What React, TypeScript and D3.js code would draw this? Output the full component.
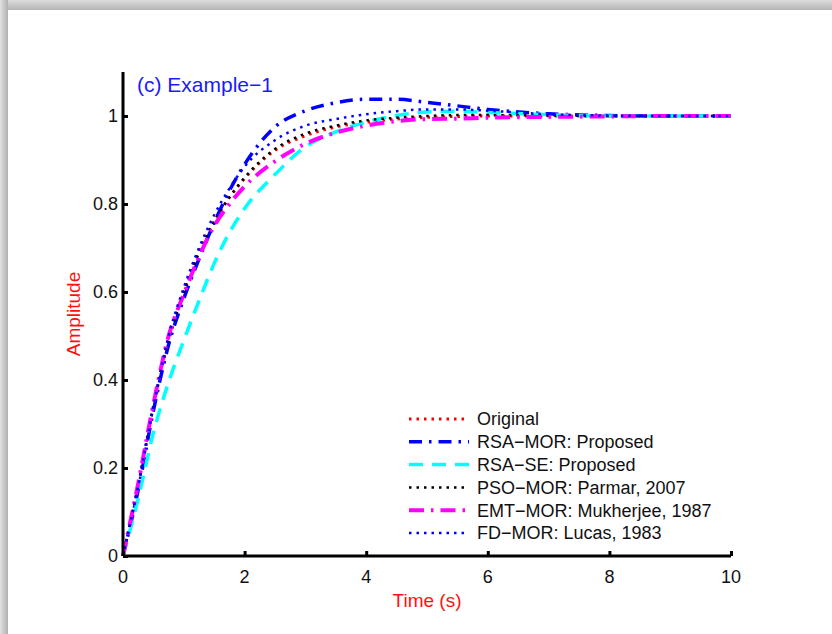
import { useEffect, useRef } from "react";
import * as d3 from "d3";

// step response samples
const timeS = [0, 0.25, 0.5, 0.75, 1, 1.25, 1.5, 1.75, 2, 2.5, 3, 3.5, 4, 4.5, 5, 5.5, 6, 7, 8, 9, 10];
const original = [0, 0.16, 0.34, 0.49, 0.6, 0.69, 0.76, 0.815, 0.858, 0.922, 0.955, 0.975, 0.986, 0.993, 0.997, 0.999, 1.0, 1.0, 1.0, 1.0, 1.0];
const rsaMor = [0, 0.15, 0.33, 0.48, 0.585, 0.675, 0.757, 0.83, 0.89, 0.975, 1.012, 1.03, 1.038, 1.038, 1.031, 1.023, 1.015, 1.005, 1.001, 1.0, 1.0];
const rsaSe = [0, 0.13, 0.28, 0.395, 0.49, 0.58, 0.665, 0.735, 0.79, 0.867, 0.93, 0.964, 0.986, 1.001, 1.009, 1.011, 1.008, 1.003, 1.0, 1.0, 1.0];
const psoMor = [0, 0.16, 0.34, 0.49, 0.6, 0.69, 0.76, 0.815, 0.86, 0.925, 0.96, 0.978, 0.99, 0.996, 1.0, 1.002, 1.002, 1.001, 1.0, 1.0, 1.0];
const emtMor = [0, 0.165, 0.345, 0.5, 0.595, 0.68, 0.75, 0.8, 0.84, 0.897, 0.937, 0.962, 0.978, 0.988, 0.993, 0.994, 0.996, 0.998, 0.999, 1.0, 1.0];
const fdMor = [0, 0.16, 0.34, 0.5, 0.61, 0.7, 0.775, 0.835, 0.885, 0.945, 0.978, 0.993, 1.004, 1.011, 1.015, 1.015, 1.012, 1.004, 1.001, 1.0, 1.0];

const seriesNames = [
  "Original",
  "RSA\u2212MOR: Proposed",
  "RSA\u2212SE: Proposed",
  "PSO\u2212MOR: Parmar, 2007",
  "EMT\u2212MOR: Mukherjee, 1987",
  "FD\u2212MOR: Lucas, 1983",
];
const seriesValues = [original, rsaMor, rsaSe, psoMor, emtMor, fdMor];
const seriesColors = ["#ff0000", "#0000ff", "#00ffff", "#000000", "#ff00ff", "#0000ff"];
const seriesDash = ["2.5,5", "13,7,2.5,7", "14,9", "2.5,5", "15,7,2.5,7", "2.5,5"];
const seriesWidth = [3, 3.5, 3.5, 2.5, 4, 2.5];

const xTicks = [0, 2, 4, 6, 8, 10];
const yTicks = [0, 0.2, 0.4, 0.6, 0.8, 1];

const App = () => {
  const svgRef = useRef<SVGSVGElement>(null);

  useEffect(() => {
    const W = 832;
    const H = 634;
    const font = "Liberation Sans, Arial, Helvetica, sans-serif";

    d3.select(svgRef.current).selectAll("*").remove();
    const svg = d3.select(svgRef.current).attr("width", W).attr("height", H);

    // picture frame with shadow (top and left)
    const defs = svg.append("defs");
    const gTop = defs.append("linearGradient").attr("id", "gTop").attr("x1", 0).attr("y1", 0).attr("x2", 0).attr("y2", 1);
    gTop.append("stop").attr("offset", "0%").attr("stop-color", "#dcdcdc");
    gTop.append("stop").attr("offset", "100%").attr("stop-color", "#b4b4b4");
    const gLeft = defs.append("linearGradient").attr("id", "gLeft").attr("x1", 0).attr("y1", 0).attr("x2", 1).attr("y2", 0);
    gLeft.append("stop").attr("offset", "0%").attr("stop-color", "#e2e2e2");
    gLeft.append("stop").attr("offset", "100%").attr("stop-color", "#b0b0b0");

    svg.append("rect").attr("width", W).attr("height", H).attr("fill", "#ffffff");
    svg.append("rect").attr("x", 0).attr("y", 0).attr("width", W).attr("height", 10).attr("fill", "url(#gTop)");
    svg.append("rect").attr("x", 0).attr("y", 0).attr("width", 8).attr("height", H).attr("fill", "url(#gLeft)");
    svg.append("rect").attr("x", 8).attr("y", 10).attr("width", W - 8).attr("height", H - 10).attr("fill", "#ffffff");

    const left = 123;
    const right = 731;
    const top = 72;
    const bottom = 556;

    const x = d3.scaleLinear().domain([0, 10]).range([left, right]);
    const y = d3.scaleLinear().domain([0, 1.1]).range([bottom, top]);

    // curves
    const line = d3
      .line<number>()
      .x((_, i) => x(timeS[i]))
      .y((d) => y(d))
      .curve(d3.curveMonotoneX);

    seriesValues.forEach((vals, k) => {
      svg.append("path")
        .datum(vals)
        .attr("fill", "none")
        .attr("stroke", seriesColors[k])
        .attr("stroke-width", seriesWidth[k])
        .attr("stroke-dasharray", seriesDash[k])
        .attr("d", line);
    });

    // axes (MATLAB style, box off, ticks inside)
    const yAxis = svg.append("g").attr("transform", `translate(${left},0)`)
      .call(d3.axisRight(y).tickValues(yTicks).tickSize(5).tickFormat(() => ""));
    yAxis.select(".domain").attr("stroke", "#000").attr("stroke-width", 3).attr("d", `M0,${bottom}V${top}`);
    yAxis.selectAll(".tick line").attr("stroke", "#000").attr("stroke-width", 3);

    const xAxis = svg.append("g").attr("transform", `translate(0,${bottom})`)
      .call(d3.axisTop(x).tickValues(xTicks).tickSize(5).tickFormat(() => ""));
    xAxis.select(".domain").attr("stroke", "#000").attr("stroke-width", 3).attr("d", `M${left},0H${right}`);
    xAxis.selectAll(".tick line").attr("stroke", "#000").attr("stroke-width", 3);

    // tick labels
    svg.append("g").selectAll("text").data(yTicks).join("text")
      .attr("x", left - 5)
      .attr("y", (d) => y(d))
      .attr("dy", "0.35em")
      .attr("text-anchor", "end")
      .attr("font-family", font)
      .attr("font-size", 18)
      .attr("fill", "#111")
      .text((d) => d3.format("~g")(d));

    svg.append("g").selectAll("text").data(xTicks).join("text")
      .attr("x", (d) => x(d))
      .attr("y", bottom + 27)
      .attr("text-anchor", "middle")
      .attr("font-family", font)
      .attr("font-size", 18)
      .attr("fill", "#111")
      .text((d) => String(d));

    // axis labels
    svg.append("text")
      .attr("x", (left + right) / 2)
      .attr("y", bottom + 51)
      .attr("text-anchor", "middle")
      .attr("font-family", font)
      .attr("font-size", 19)
      .attr("fill", "#ff1010")
      .text("Time (s)");

    svg.append("text")
      .attr("transform", `translate(80,${(top + bottom) / 2}) rotate(-90)`)
      .attr("text-anchor", "middle")
      .attr("font-family", font)
      .attr("font-size", 19)
      .attr("fill", "#ff1010")
      .text("Amplitude");

    // title inside plot
    svg.append("text")
      .attr("x", 137)
      .attr("y", 92)
      .attr("font-family", font)
      .attr("font-size", 21)
      .attr("fill", "#1a1aff")
      .text("(c) Example\u22121");

    // legend (no box)
    const lg = svg.append("g");
    seriesNames.forEach((name, k) => {
      const cy = 419 + k * 22.8;
      lg.append("line")
        .attr("x1", 409).attr("x2", 469)
        .attr("y1", cy).attr("y2", cy)
        .attr("stroke", seriesColors[k])
        .attr("stroke-width", seriesWidth[k])
        .attr("stroke-dasharray", seriesDash[k]);
      lg.append("text")
        .attr("x", 477)
        .attr("y", cy)
        .attr("dy", "0.35em")
        .attr("font-family", font)
        .attr("font-size", 18)
        .attr("fill", "#111")
        .text(name);
    });
  }, []);

  return (
    <svg
      ref={svgRef}
      style={{ position: "absolute", left: 0, top: 0, display: "block" }}
    ></svg>
  );
};

export default App;
